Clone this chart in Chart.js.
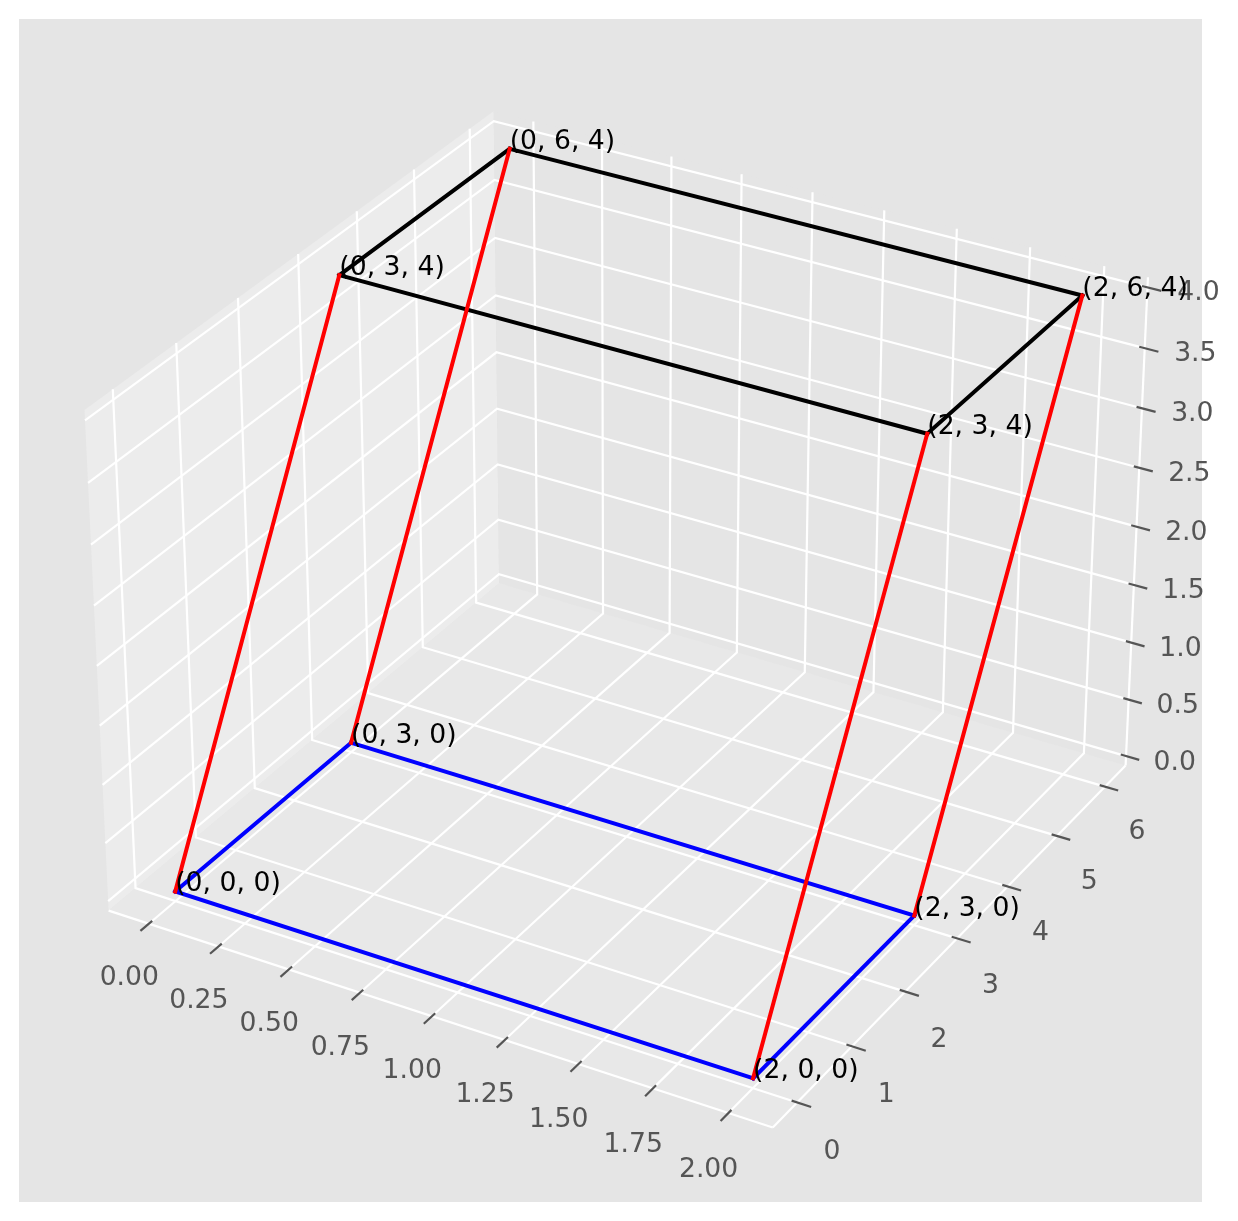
<!DOCTYPE html>
<html>
<head>
  <meta charset="UTF-8">
  <title>Parallelepiped</title>
  <script src="https://cdn.jsdelivr.net/npm/chart.js"></script>
  <style>
    html, body { margin: 0; background: #fff; }
    #box { position: absolute; left: 19px; top: 19px; width: 1183px; height: 1183px; background: #e5e5e5; }
    #chart { position: absolute; left: 0; top: 0; }
  </style>
</head>
<body>
  <div id="box"></div>
  <canvas id="chart" width="1238" height="1221"></canvas>

  <script>
    // data edges of the solid
    const bottomEdges = [[[0,0,0],[2,0,0]], [[2,0,0],[2,3,0]], [[2,3,0],[0,3,0]], [[0,3,0],[0,0,0]]];
    const topEdges = [[[0,3,4],[2,3,4]], [[2,3,4],[2,6,4]], [[2,6,4],[0,6,4]], [[0,6,4],[0,3,4]]];
    const sideEdges = [[[0,0,0],[0,3,4]], [[2,0,0],[2,3,4]], [[2,3,0],[2,6,4]], [[0,3,0],[0,6,4]]];
    const corners = [[0,0,0],[2,0,0],[2,3,0],[0,3,0],[0,3,4],[2,3,4],[2,6,4],[0,6,4]];

    // axes
    const xLim = [-0.1, 2.1];
    const yLim = [-0.3, 6.3];
    const zLim = [0, 4];
    const xTicks = [0, 0.25, 0.5, 0.75, 1, 1.25, 1.5, 1.75, 2];
    const yTicks = [0, 1, 2, 3, 4, 5, 6];
    const zTicks = [0, 0.5, 1, 1.5, 2, 2.5, 3, 3.5, 4];
    const xTickLabels = ['0.00', '0.25', '0.50', '0.75', '1.00', '1.25', '1.50', '1.75', '2.00'];
    const yTickLabels = ['0', '1', '2', '3', '4', '5', '6'];
    const zTickLabels = ['0.0', '0.5', '1.0', '1.5', '2.0', '2.5', '3.0', '3.5', '4.0'];

    // camera, same as the default 3d view (elev 30, azim -60, dist 10)
    const elev = 30 * Math.PI / 180;
    const azim = -60 * Math.PI / 180;
    const dist = 10;
    const boxScale = 1.8294640721620434 / Math.sqrt(41);
    const box = [4 * boxScale, 4 * boxScale, 3 * boxScale];
    const nx = Math.cos(elev) * Math.cos(azim);
    const ny = Math.cos(elev) * Math.sin(azim);
    const nz = Math.sin(elev);
    const h = Math.hypot(nx, ny);
    const ux = -ny / h, uy = nx / h;
    const vx = -nz * uy, vy = nz * ux, vz = nx * uy - ny * ux;

    function project(p) {
      const px = ((p[0] - xLim[0]) / (xLim[1] - xLim[0]) - 0.5) * box[0];
      const py = ((p[1] - yLim[0]) / (yLim[1] - yLim[0]) - 0.5) * box[1];
      const pz = ((p[2] - zLim[0]) / (zLim[1] - zLim[0]) - 0.5) * box[2];
      const d = dist - (nx * px + ny * py + nz * pz);
      return { x: (ux * px + uy * py) / d, y: (vx * px + vy * py + vz * pz) / d };
    }

    // panes sit 1/48 of the range outside the view limits
    const grow = lim => [lim[0] - (lim[1] - lim[0]) / 48, lim[1] + (lim[1] - lim[0]) / 48];
    const [x0, x1] = grow(xLim);
    const [y0, y1] = grow(yLim);
    const [z0, z1] = grow(zLim);
    const dx = (xLim[1] - xLim[0]) / 12;
    const dy = (yLim[1] - yLim[0]) / 12;
    const outward = 0.25, inward = 0.1;

    const datasets = [];
    function addLine(points, color, width, cap) {
      datasets.push({
        data: points.map(project), showLine: true, borderColor: color, borderWidth: width,
        borderCapStyle: cap || 'butt', borderJoinStyle: 'miter', pointRadius: 0, fill: false
      });
    }
    function addPane(points, color) {
      datasets.push({
        data: points.concat([points[0]]).map(project), showLine: true, borderWidth: 0,
        borderColor: color, backgroundColor: color, pointRadius: 0, fill: 'shape'
      });
    }

    addPane([[x0,y0,z0],[x0,y1,z0],[x0,y1,z1],[x0,y0,z1]], '#ececec');
    addPane([[x0,y1,z0],[x1,y1,z0],[x1,y1,z1],[x0,y1,z1]], '#e5e5e5');
    addPane([[x0,y0,z0],[x1,y0,z0],[x1,y1,z0],[x0,y1,z0]], '#e8e8e8');

    xTicks.forEach(x => addLine([[x,y0,z0],[x,y1,z0],[x,y1,z1]], '#ffffff', 2.2));
    yTicks.forEach(y => addLine([[x1,y,z0],[x0,y,z0],[x0,y,z1]], '#ffffff', 2.2));
    zTicks.forEach(z => addLine([[x0,y0,z],[x0,y1,z],[x1,y1,z]], '#ffffff', 2.2));

    addLine([[x0,y0,z0],[x1,y0,z0]], '#ffffff', 2.2);
    addLine([[x1,y0,z0],[x1,y1,z0]], '#ffffff', 2.2);
    addLine([[x1,y1,z0],[x1,y1,z1]], '#ffffff', 2.2);

    xTicks.forEach(x => addLine([[x,y0+inward*dy,z0],[x,y0-outward*dy,z0]], '#555555', 2.2));
    yTicks.forEach(y => addLine([[x1-inward*dx,y,z0],[x1+outward*dx,y,z0]], '#555555', 2.2));
    zTicks.forEach(z => addLine([[x1-inward*dx,y1,z],[x1+outward*dx,y1,z]], '#555555', 2.2));

    bottomEdges.forEach(e => addLine(e, '#0000ff', 4, 'square'));
    topEdges.forEach(e => addLine(e, '#000000', 4, 'square'));
    sideEdges.forEach(e => addLine(e, '#ff0000', 4, 'square'));

    // later datasets go on top
    datasets.forEach((d, i) => { d.order = -i; });

    const textPlugin = {
      id: 'axisText',
      afterDraw(chart) {
        const ctx = chart.ctx;
        const sx = chart.scales.x, sy = chart.scales.y;
        const put = (p, text) => {
          const q = project(p);
          ctx.fillText(text, sx.getPixelForValue(q.x), sy.getPixelForValue(q.y));
        };
        const xr = xLim[1] - xLim[0], yr = yLim[1] - yLim[0], zr = zLim[1] - zLim[0];
        ctx.save();
        ctx.font = '26.67px "DejaVu Sans"';
        ctx.fillStyle = '#555555';
        ctx.textAlign = 'center';
        ctx.textBaseline = 'middle';
        xTicks.forEach((x, i) => put([x, y0 - 0.052 * yr, z0 - 0.078 * zr], xTickLabels[i]));
        yTicks.forEach((y, i) => put([x1 + 0.053 * xr, y, z0 - 0.08 * zr], yTickLabels[i]));
        zTicks.forEach((z, i) => put([x1 + 0.068 * xr, y1 + 0.0185 * yr, z], zTickLabels[i]));
        ctx.fillStyle = '#000000';
        ctx.textAlign = 'left';
        ctx.textBaseline = 'alphabetic';
        corners.forEach(c => put(c, '(' + c.join(', ') + ')'));
        ctx.restore();
      }
    };

    const pxScale = 6391, originX = 626.5, originY = 595;
    new Chart(document.getElementById('chart'), {
      type: 'scatter',
      data: { datasets: datasets },
      plugins: [textPlugin],
      options: {
        responsive: false,
        animation: false,
        layout: { padding: 0 },
        plugins: { legend: { display: false }, tooltip: { enabled: false } },
        scales: {
          x: { type: 'linear', display: false, min: -originX / pxScale, max: (1238 - originX) / pxScale },
          y: { type: 'linear', display: false, min: (originY - 1221) / pxScale, max: originY / pxScale }
        }
      }
    });
  </script>
</body>
</html>
